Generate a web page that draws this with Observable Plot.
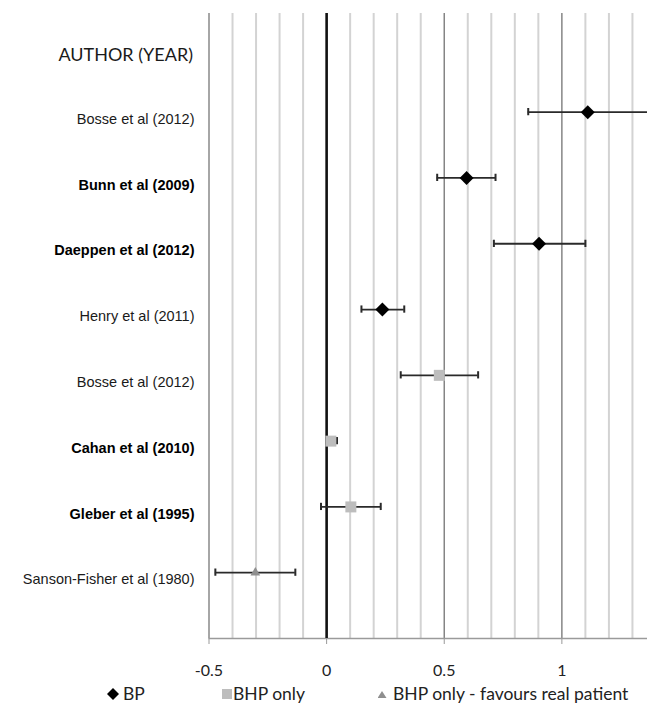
<!DOCTYPE html>
<html>
<head>
<meta charset="utf-8">
<script src="https://cdn.jsdelivr.net/npm/d3@7"></script>
<script src="https://cdn.jsdelivr.net/npm/@observablehq/plot@0.6"></script>
<style>
  html, body { margin: 0; padding: 0; background: #fff; }
  #wrap { position: relative; width: 647px; }
  #legend { position: relative; width: 647px; height: 17px; font-family: Lato, sans-serif; font-size: 17.5px; color: #222; }
  #legend .item { position: absolute; top: -6px; line-height: 20px; white-space: nowrap; }
  #legend svg { position: absolute; }
  g[aria-label="x-axis tick"] { stroke: #999; }
</style>
</head>
<body>
<div id="wrap"><div id="chart"></div><div id="legend"></div></div>
<script>
// ---- data ----
const headerLabel = "AUTHOR (YEAR)";
const studies = ["Bosse et al (2012)", "Bunn et al (2009)", "Daeppen et al (2012)", "Henry et al (2011)",
                 "Bosse et al (2012)", "Cahan et al (2010)", "Gleber et al (1995)", "Sanson-Fisher et al (1980)"];
const boldLabel = [false, true, true, false, false, true, true, false];
const groups = ["BP", "BP", "BP", "BP", "BHP only", "BHP only", "BHP only", "BHP only - favours real patient"];
const estimate = [1.11, 0.595, 0.903, 0.237, 0.479, 0.018, 0.103, -0.303];
const lower    = [0.857, 0.470, 0.711, 0.148, 0.315, 0.000, -0.024, -0.473];
const upper    = [1.42, 0.718, 1.100, 0.330, 0.644, 0.044, 0.230, -0.133];
const xTicks = [-0.5, 0, 0.5, 1];
const xTickLabels = ["-0.5", "0", "0.5", "1"];
const minorGrid = [-0.4, -0.3, -0.2, -0.1, 0.1, 0.2, 0.3, 0.4, 0.6, 0.7, 0.8, 0.9, 1.1, 1.2, 1.3];
const majorGrid = [0.5, 1];
const legendItems = ["BP", "BHP only", "BHP only - favours real patient"];

// ---- build table ----
const rows = studies.map((s, i) => ({
  study: s, row: i + 1, bold: boldLabel[i], group: groups[i],
  est: estimate[i], lo: lower[i], hi: upper[i]
}));
const header = [{label: headerLabel, row: 0}];
const symbolOf = {"BP": "diamond2", "BHP only": "square", "BHP only - favours real patient": "triangle"};
const fillOf = {"BP": "#000", "BHP only": "#bdbdbd", "BHP only - favours real patient": "#8f8f8f"};
const rOf = {"BP": 6.3, "BHP only": 6.2, "BHP only - favours real patient": 3.6};
const cap = 0.055;

const chart = Plot.plot({
  width: 647,
  height: 690,
  marginTop: 13,
  marginBottom: 52,
  marginLeft: 208.5,
  marginRight: 0,
  style: {fontFamily: "Lato, sans-serif", fontSize: "16px", color: "#222", background: "#fff"},
  x: {domain: [-0.5, 1.364], ticks: xTicks, tickFormat: (d) => xTickLabels[xTicks.indexOf(d)], tickSize: 6, tickPadding: 20, label: null},
  y: {domain: [-0.5, 9], reverse: true, axis: null},
  marks: [
    Plot.ruleX(minorGrid, {stroke: "#d3d3d3", strokeWidth: 2}),
    Plot.ruleX([-0.5], {stroke: "#a6a6a6", strokeWidth: 2}),
    Plot.ruleX(majorGrid, {stroke: "#858585", strokeWidth: 1.5}),
    Plot.ruleY([9], {stroke: "#9a9a9a", strokeWidth: 1.5}),
    Plot.ruleX([0], {stroke: "#111", strokeWidth: 2.6}),
    // error bars
    Plot.ruleY(rows, {y: "row", x1: "lo", x2: "hi", stroke: "#2a2a2a", strokeWidth: 1.8, clip: true}),
    Plot.ruleX(rows, {x: "lo", y1: (d) => d.row - cap, y2: (d) => d.row + cap, stroke: "#2a2a2a", strokeWidth: 2, clip: true}),
    Plot.ruleX(rows, {x: "hi", y1: (d) => d.row - cap, y2: (d) => d.row + cap, stroke: "#2a2a2a", strokeWidth: 2, clip: true}),
    // markers
    ...Object.keys(symbolOf).map((g) =>
      Plot.dot(rows.filter((d) => d.group === g), {x: "est", y: "row", symbol: symbolOf[g], r: rOf[g], fill: fillOf[g], stroke: "none"})
    ),
    // labels
    Plot.text(rows.filter((d) => !d.bold), {text: "study", y: "row", frameAnchor: "left", dx: -14.5, dy: 7, textAnchor: "end",
      fontFamily: "'Liberation Sans', Arial, sans-serif", fontSize: 14.5, fill: "#1a1a1a"}),
    Plot.text(rows.filter((d) => d.bold), {text: "study", y: "row", frameAnchor: "left", dx: -14.5, dy: 7, textAnchor: "end",
      fontFamily: "'Liberation Sans', Arial, sans-serif", fontSize: 14.5, fontWeight: "bold", fill: "#000"}),
    Plot.text(header, {text: "label", y: "row", frameAnchor: "left", dx: -16, dy: 9, textAnchor: "end",
      fontFamily: "Lato, sans-serif", fontSize: 18, fill: "#1a1a1a"})
  ]
});
document.getElementById("chart").appendChild(chart);

// ---- legend ----
const legend = document.getElementById("legend");
const legendLayout = [
  {sym: "diamond", symLeft: 107, textLeft: 123},
  {sym: "square", symLeft: 221, textLeft: 233},
  {sym: "triangle", symLeft: 378, textLeft: 393}
];
legendItems.forEach((name, i) => {
  const L = legendLayout[i];
  const s = document.createElementNS("http://www.w3.org/2000/svg", "svg");
  s.setAttribute("width", 14); s.setAttribute("height", 14);
  s.style.left = L.symLeft + "px"; s.style.top = "-2px";
  let shape;
  if (L.sym === "diamond") {
    shape = document.createElementNS("http://www.w3.org/2000/svg", "polygon");
    shape.setAttribute("points", "6,0 12,6 6,12 0,6");
    shape.setAttribute("fill", fillOf[name]);
  } else if (L.sym === "square") {
    shape = document.createElementNS("http://www.w3.org/2000/svg", "rect");
    shape.setAttribute("x", 1); shape.setAttribute("y", 1); shape.setAttribute("width", 10); shape.setAttribute("height", 10);
    shape.setAttribute("fill", fillOf[name]);
  } else {
    shape = document.createElementNS("http://www.w3.org/2000/svg", "polygon");
    shape.setAttribute("points", "4,3 8.5,10 -0.5,10");
    shape.setAttribute("fill", fillOf[name]);
  }
  s.appendChild(shape);
  legend.appendChild(s);
  const t = document.createElement("span");
  t.className = "item";
  t.style.left = L.textLeft + "px";
  t.textContent = name;
  legend.appendChild(t);
});
</script>
</body>
</html>
